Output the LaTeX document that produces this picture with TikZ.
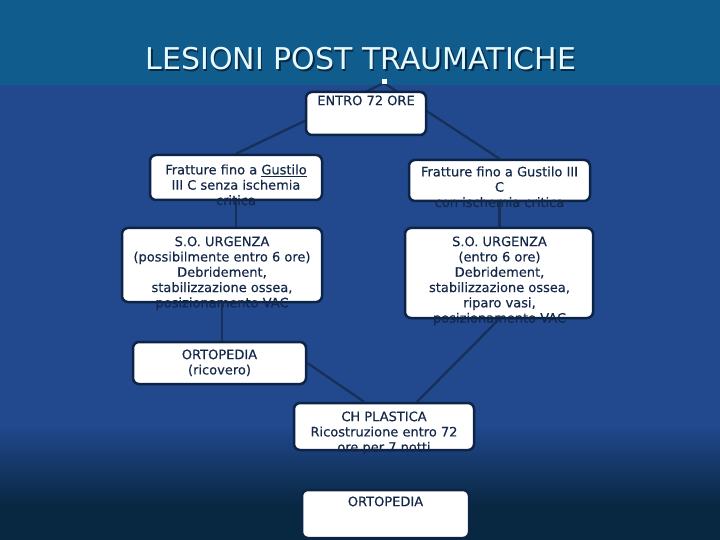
\documentclass[tikz,border=0pt]{standalone}
\usepackage{fontspec}
\setmainfont{DejaVu Sans}
\newfontfamily\boxfont{DejaVu Sans}[FakeBold=0.35]
\usetikzlibrary{calc}
\pgfdeclarelayer{bg}
\pgfdeclarelayer{lines}
\pgfsetlayers{bg,lines,main}
\definecolor{band}{RGB}{16,92,140}
\definecolor{bodyc}{RGB}{34,72,142}
\definecolor{bottomc}{RGB}{8,40,66}
\definecolor{boxline}{RGB}{12,36,70}
\definecolor{textc}{RGB}{20,40,74}
\definecolor{connc}{RGB}{22,48,90}
\definecolor{titlec}{RGB}{228,250,255}
\definecolor{titleshadow}{RGB}{8,40,70}
\begin{document}
\begin{tikzpicture}[x=1pt,y=-1pt,
  box/.style={draw=boxline, line width=2.5pt, fill=white, rounded corners=6pt, inner sep=0pt},
  txt/.style={font=\boxfont\fontsize{13}{15.3}\selectfont, text=textc, align=center, inner sep=0pt, anchor=north},
  conn/.style={draw=connc, line width=2.3pt},
  ttl/.style={font=\fontsize{30}{36}\selectfont, inner sep=0pt, anchor=base}]
\useasboundingbox (0,0) rectangle (720,540);
\begin{pgfonlayer}{bg}
  \fill[bodyc] (0,0) rectangle (720,540);
  \shade[top color=bodyc, bottom color=bottomc] (0,425) rectangle (720,505);
  \fill[bottomc] (0,504) rectangle (720,540);
  \fill[band] (0,0) rectangle (720,85);
\end{pgfonlayer}
% title
\node[ttl, text=titleshadow] (titleshadow) at (362.5,71.5) {LESIONI POST TRAUMATICHE};
\node[ttl, text=titlec] (title) at (361,70) {LESIONI POST TRAUMATICHE};
\coordinate (hub) at (384,83);
\fill[white] (382,79) rectangle (387,84);
% boxes
\node[box, minimum width=120pt, minimum height=43pt] (b0) at (366,113.5) {};
\node[box, minimum width=172pt, minimum height=45pt] (l1) at (236,177.5) {};
\node[box, minimum width=181pt, minimum height=41pt] (r1) at (499.5,180.5) {};
\node[box, minimum width=200pt, minimum height=74pt] (l2) at (222,265) {};
\node[box, minimum width=188pt, minimum height=90pt] (r2) at (499,273) {};
\node[box, minimum width=173pt, minimum height=42pt] (l3) at (219.5,363) {};
\node[box, minimum width=180pt, minimum height=47pt] (c3) at (384,426.5) {};
\node[box, minimum width=167pt, minimum height=48pt] (c4) at (385.5,514) {};
% texts
\node[txt] (t0) at (366,95.3) {ENTRO 72 ORE};
\node[txt] (t1) at (236,164.3) {Fratture fino a \underline{Gustilo}\\III C senza ischemia\\critica};
\node[txt] (t2) at (499.5,166.3) {Fratture fino a Gustilo III\\C\\con ischemia critica};
\node[txt] (t3) at (222,236.3) {S.O. URGENZA\\(possibilmente entro 6 ore)\\Debridement,\\stabilizzazione ossea,\\posizionamento VAC};
\node[txt] (t4) at (499.5,236.3) {S.O. URGENZA\\(entro 6 ore)\\Debridement,\\stabilizzazione ossea,\\riparo vasi,\\posizionamento VAC};
\node[txt] (t5) at (219.5,349.3) {ORTOPEDIA\\(ricovero)};
\node[txt] (t6) at (384,411.3) {CH PLASTICA\\Ricostruzione entro 72\\ore per 7 notti};
\node[txt] (t7) at (385.5,496.3) {ORTOPEDIA};
% connectors
\begin{pgfonlayer}{lines}
  \draw[conn] (hub) -- (l1.north);
  \draw[conn] (hub) -- (r1.north);
  \draw[conn] (l1.south) -- (l1.south |- l2.north);
  \draw[conn] (r1.south) -- (r1.south |- r2.north);
  \draw[conn] (l2.south) -- (l2.south |- l3.north);
  \draw[conn] (r2.south) -- ($(c3.north)+(33,0)$);
  \draw[conn] (l3.east) -- ($(c3.north)+(-20,0)$);
\end{pgfonlayer}
\end{tikzpicture}
\end{document}
